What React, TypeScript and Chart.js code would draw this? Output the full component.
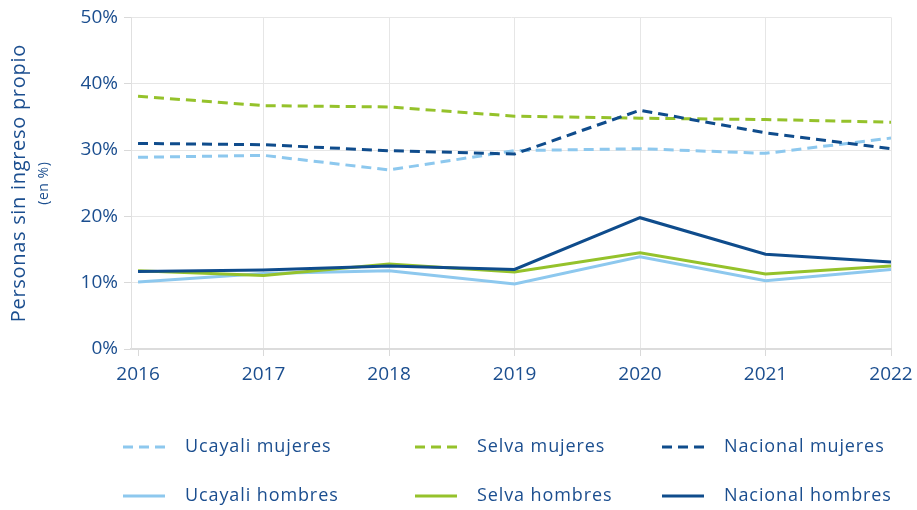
import { useEffect, useRef } from "react";
import { Chart, registerables } from "chart.js";

Chart.register(...registerables);

const years = [2016, 2017, 2018, 2019, 2020, 2021, 2022];
const ucayaliMujeres = [28.9, 29.2, 27.0, 29.9, 30.2, 29.5, 31.8];
const selvaMujeres = [38.1, 36.7, 36.5, 35.1, 34.8, 34.6, 34.2];
const nacionalMujeres = [31.0, 30.8, 29.9, 29.4, 36.0, 32.6, 30.2];
const ucayaliHombres = [10.1, 11.4, 11.8, 9.8, 13.9, 10.3, 12.0];
const selvaHombres = [11.8, 11.1, 12.8, 11.6, 14.5, 11.3, 12.5];
const nacionalHombres = [11.7, 11.9, 12.5, 12.0, 19.8, 14.3, 13.1];
const yTickValues = [0, 10, 20, 30, 40, 50];
const yTitle = "Personas sin ingreso propio";
const ySubtitle = "(en %)";

const LIGHT = "#8DC8EE";
const GREEN = "#95C22B";
const DARK = "#0F4C8C";
const TEXT = "#1B4E8F";
const FONT = '"Open Sans", "Noto Sans", sans-serif';
const DASH = [10, 6];

export default function App() {
  const ref = useRef<HTMLCanvasElement | null>(null);

  useEffect(() => {
    if (!ref.current) return;

    const legendItems = [
      { label: "Ucayali mujeres", color: LIGHT, dash: DASH, col: 0, row: 0 },
      { label: "Selva mujeres", color: GREEN, dash: DASH, col: 1, row: 0 },
      { label: "Nacional mujeres", color: DARK, dash: DASH, col: 2, row: 0 },
      { label: "Ucayali hombres", color: LIGHT, dash: [], col: 0, row: 1 },
      { label: "Selva hombres", color: GREEN, dash: [], col: 1, row: 1 },
      { label: "Nacional hombres", color: DARK, dash: [], col: 2, row: 1 },
    ];
    const colLineX = [123, 415, 662];
    const rowY = [447, 496];

    const customLegend = {
      id: "customLegend",
      afterDraw(chart: any) {
        const ctx = chart.ctx;
        ctx.save();
        legendItems.forEach((it) => {
          const x0 = colLineX[it.col];
          const y = rowY[it.row];
          ctx.beginPath();
          ctx.setLineDash(it.dash);
          ctx.strokeStyle = it.color;
          ctx.lineWidth = 3;
          ctx.moveTo(x0, y);
          ctx.lineTo(x0 + 42, y);
          ctx.stroke();
          ctx.setLineDash([]);
        });
        ctx.restore();
        ctx.save();
        ctx.letterSpacing = "0.9px";
        ctx.fillStyle = TEXT;
        ctx.font = `18px ${FONT}`;
        ctx.textBaseline = "middle";
        ctx.textAlign = "left";
        legendItems.forEach((it) => {
          ctx.fillText(it.label, colLineX[it.col] + 62, rowY[it.row]);
        });
        ctx.restore();
      },
    };

    const yTitlePlugin = {
      id: "yTitlePlugin",
      afterDraw(chart: any) {
        const ctx = chart.ctx;
        const ca = chart.chartArea;
        const cy = (ca.top + ca.bottom) / 2;
        ctx.save();
        ctx.letterSpacing = "0.7px";
        ctx.fillStyle = TEXT;
        ctx.textAlign = "center";
        ctx.textBaseline = "middle";
        ctx.translate(19, cy);
        ctx.rotate(-Math.PI / 2);
        ctx.font = `20px ${FONT}`;
        ctx.fillText(yTitle, 0, 0);
        ctx.restore();
        ctx.save();
        ctx.letterSpacing = "0.5px";
        ctx.fillStyle = TEXT;
        ctx.textAlign = "center";
        ctx.textBaseline = "middle";
        ctx.translate(44, cy);
        ctx.rotate(-Math.PI / 2);
        ctx.font = `14px ${FONT}`;
        ctx.fillText(ySubtitle, 0, 0);
        ctx.restore();
      },
    };

    const mk = (label: string, data: number[], color: string, dashed: boolean, order: number) => ({
      label,
      data: data.map((v, i) => ({ x: years[i], y: v })),
      borderColor: color,
      backgroundColor: color,
      borderWidth: 3,
      borderDash: dashed ? DASH : [],
      pointRadius: 0,
      pointHoverRadius: 0,
      tension: 0,
      fill: false,
      order,
    });

    const chart = new Chart(ref.current, {
      type: "line",
      data: {
        datasets: [
          mk("Ucayali mujeres", ucayaliMujeres, LIGHT, true, 6),
          mk("Selva mujeres", selvaMujeres, GREEN, true, 5),
          mk("Nacional mujeres", nacionalMujeres, DARK, true, 4),
          mk("Ucayali hombres", ucayaliHombres, LIGHT, false, 3),
          mk("Selva hombres", selvaHombres, GREEN, false, 2),
          mk("Nacional hombres", nacionalHombres, DARK, false, 1),
        ] as any,
      },
      options: {
        animation: false,
        responsive: true,
        maintainAspectRatio: false,
        layout: { padding: { left: 0, right: 26, top: 17, bottom: 116 } },
        plugins: {
          legend: { display: false },
          tooltip: { enabled: false },
          title: { display: false },
        },
        scales: {
          x: {
            type: "linear",
            min: years[0] - 0.056,
            max: years[years.length - 1],
            afterBuildTicks: (scale: any) => {
              scale.ticks = years.map((v) => ({ value: v }));
            },
            afterFit: (scale: any) => {
              scale.height = 45;
              scale.paddingRight = 0;
              scale.paddingLeft = 0;
            },
            ticks: {
              color: TEXT,
              font: { family: FONT, size: 19 },
              padding: 7,
              maxRotation: 0,
              autoSkip: false,
              callback: (v: any) => String(v),
            },
            grid: {
              color: (c: any) => (c.tick && c.tick.value === years[0] ? "rgba(0,0,0,0)" : "#e6e6e6"),
              tickColor: "#d9d9d9",
              tickLength: 7,
              lineWidth: 1,
            },
            border: { color: "#dcdcdc", width: 2 },
          },
          y: {
            min: yTickValues[0],
            max: yTickValues[yTickValues.length - 1],
            afterBuildTicks: (scale: any) => {
              scale.ticks = yTickValues.map((v) => ({ value: v }));
            },
            afterFit: (scale: any) => {
              scale.width = 131;
            },
            ticks: {
              color: TEXT,
              font: { family: FONT, size: 19 },
              padding: 6,
              callback: (v: any) => `${v}%`,
            },
            grid: {
              color: "#e6e6e6",
              tickColor: "#d9d9d9",
              tickLength: 7,
              lineWidth: 1,
            },
            border: { color: "#e0e0e0", width: 1 },
          },
        },
      },
      plugins: [customLegend, yTitlePlugin],
    } as any);

    return () => chart.destroy();
  }, []);

  return (
    <div style={{ position: "absolute", left: 0, top: 0, width: 917, height: 510, background: "#fff" }}>
      <canvas ref={ref} />
    </div>
  );
}
